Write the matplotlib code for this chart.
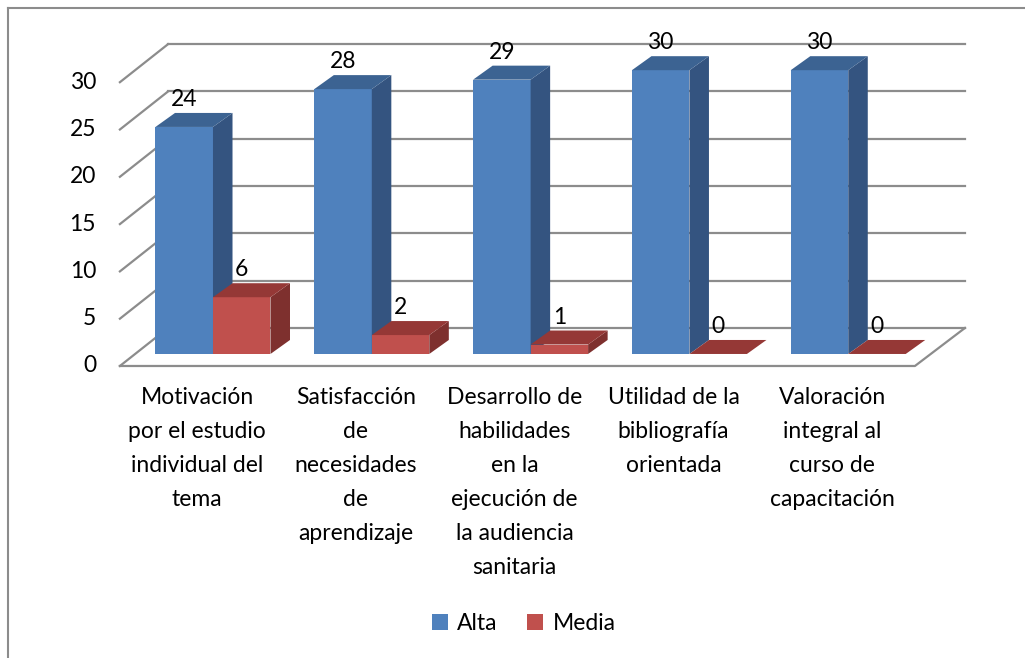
import matplotlib.pyplot as plt
from matplotlib.patches import Polygon, Patch
from matplotlib.lines import Line2D

# Data
categories = [
    "Motivación\npor el estudio\nindividual del\ntema",
    "Satisfacción\nde\nnecesidades\nde\naprendizaje",
    "Desarrollo de\nhabilidades\nen la\nejecución de\nla audiencia\nsanitaria",
    "Utilidad de la\nbibliografía\norientada",
    "Valoración\nintegral al\ncurso de\ncapacitación",
]
alta = [24, 28, 29, 30, 30]
media = [6, 2, 1, 0, 0]
series_names = ["Alta", "Media"]
yticks = [0, 5, 10, 15, 20, 25, 30]

plt.rcParams['font.family'] = ['Lato', 'DejaVu Sans']
FS = 16.5

# colours: front, side, top
blue = ("#4F81BD", "#345480", "#3C6392")
red = ("#C0504D", "#7E302E", "#953836")
grid_col = "#8C8C8C"

fig = plt.figure(figsize=(10.25, 6.58), dpi=100)
ax = fig.add_axes([0, 0, 1, 1])
ax.set_xlim(-1.341, 5.113)
ax.set_ylim(-32.14, 37.42)
ax.axis('off')

# 3D geometry (in data units)
w = 0.362           # bar width
bdx, bdy = 0.123, 1.48   # bar depth
floor_front, floor_back = -1.27, 2.75
x_fl, x_bl = -0.586, -0.283
x_fr, x_br = 4.42, 4.735

# walls and gridlines
for k in yticks:
    ax.plot([x_bl, x_br], [k + floor_back, k + floor_back], color=grid_col, lw=1.6, zorder=1)
    ax.plot([x_fl, x_bl], [k + floor_front, k + floor_back], color=grid_col, lw=1.6, zorder=1)
    ax.text(x_fl - 0.15, k + floor_front, str(k), ha='right', va='center', fontsize=FS)
ax.plot([x_fl, x_fr, x_br], [floor_front, floor_front, floor_back], color=grid_col, lw=1.6, zorder=1)


def draw_bars(xs, vals, cols):
    ax.bar(xs, vals, width=w, align='edge', color=cols[0], zorder=2)
    for x0, v in zip(xs, vals):
        x1 = x0 + w
        side = Polygon([(x1, 0), (x1 + bdx, bdy), (x1 + bdx, v + bdy), (x1, v)],
                       closed=True, facecolor=cols[1], edgecolor='none', zorder=2)
        top = Polygon([(x0, v), (x0 + bdx, v + bdy), (x1 + bdx, v + bdy), (x1, v)],
                      closed=True, facecolor=cols[2], edgecolor='none', zorder=2)
        ax.add_patch(side)
        ax.add_patch(top)
        ax.text(x0 + w / 2, v + bdy + 0.3, str(v), ha='center', va='bottom', fontsize=FS, zorder=3)


idx = list(range(len(categories)))
draw_bars([i - w for i in idx], alta, blue)
draw_bars([i for i in idx], media, red)

for i, lab in zip(idx, categories):
    ax.text(i - 0.1, -3.5, lab, ha='center', va='top', fontsize=FS, linespacing=1.76)

handles = [Patch(facecolor=blue[0]), Patch(facecolor=red[0])]
fig.legend(handles, series_names, loc='center', bbox_to_anchor=(0.511, 0.052), ncol=2,
           frameon=False, fontsize=FS, handlelength=0.7, handleheight=0.7,
           handletextpad=0.4, columnspacing=1.3)

# chart border (top and left visible)
fig.add_artist(Line2D([8 / 1025, 1], [1 - 8 / 658, 1 - 8 / 658], color="#8C8C8C", lw=1.5))
fig.add_artist(Line2D([8 / 1025, 8 / 1025], [0, 1 - 8 / 658], color="#8C8C8C", lw=1.5))

fig.savefig("out.png", dpi=100)
